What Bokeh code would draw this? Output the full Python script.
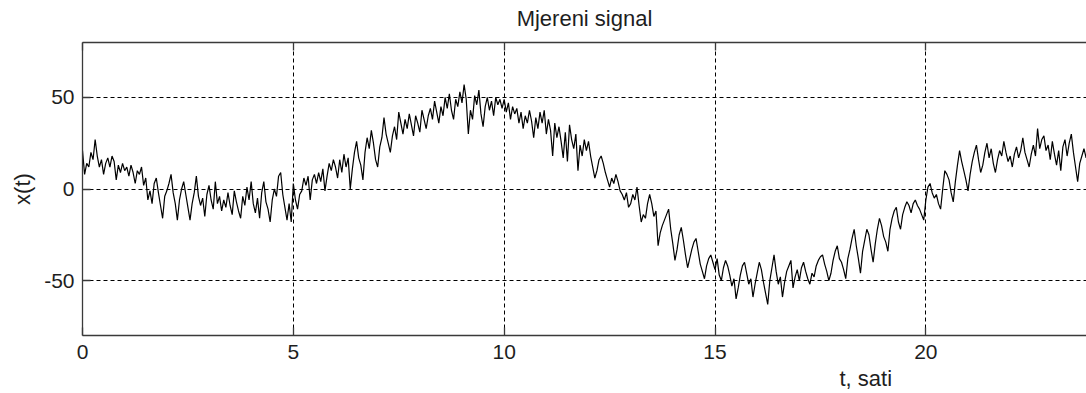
from bokeh.plotting import figure
from bokeh.models import FixedTicker, LinearAxis, Title, Range1d, ColumnDataSource
from bokeh.embed import file_html
from bokeh.resources import INLINE

# ---- data: measured signal x(t), one sample every 0.05 h (3 min), hour by hour ----
h00 = [21, 8, 14, 12, 20, 16, 27, 18, 12, 16, 8, 14, 17, 12, 18, 15, 5, 13, 9, 14]
h01 = [10, 12, 7, 13, 9, 3, 10, 8, 12, 2, 6, -6, -1, -8, 3, 6, -2, -9, -16, -4]
h02 = [-1, 3, 8, -2, -8, -17, -6, 0, 4, -3, -10, -17, -8, -2, 7, -4, -9, -5, -15, -3]
h03 = [2, -6, -11, 4, -8, -4, -12, -6, -10, -2, -9, -14, -1, -7, -12, -16, -4, -9, 1, -6]
h04 = [4, -8, -13, -5, -16, -2, 4, -7, -11, -18, -6, 0, -4, 7, 9, -3, -10, -17, -8, -18]
h05 = [3, -6, -11, -3, -1, 6, 2, 7, -6, 5, 8, 3, 9, 4, 11, -1, 7, 14, 10, 16]
h06 = [12, 6, 16, 9, 19, 12, 17, 0, 11, 20, 26, 17, 13, 5, 20, 28, 22, 32, 25, 16]
h07 = [12, 23, 28, 39, 30, 25, 20, 29, 34, 27, 42, 36, 30, 38, 33, 41, 35, 29, 40, 36]
h08 = [31, 43, 38, 33, 40, 44, 38, 48, 42, 36, 45, 40, 50, 44, 52, 43, 38, 49, 45, 53]
h09 = [47, 57, 49, 30, 43, 38, 51, 46, 54, 41, 34, 45, 50, 43, 48, 40, 50, 46, 49, 44]
h10 = [49, 42, 47, 38, 45, 41, 44, 36, 42, 33, 40, 36, 43, 37, 28, 39, 33, 42, 36, 43]
h11 = [30, 38, 32, 18, 36, 28, 34, 26, 17, 31, 15, 35, 27, 22, 30, 10, 24, 18, 27, 21]
h12 = [26, 18, 12, 6, 10, 16, 18, 14, 9, 5, 1, 6, 3, 8, 4, -1, -3, -6, -2, -10]
h13 = [-8, -3, -6, 1, -9, -18, -14, -16, -8, -3, -8, -15, -12, -31, -24, -20, -17, -14, -11, -22]
h14 = [-30, -39, -33, -25, -21, -28, -36, -43, -38, -33, -29, -27, -34, -41, -45, -49, -42, -38, -36, -40]
h15 = [-44, -38, -47, -50, -43, -39, -42, -47, -53, -49, -60, -54, -47, -42, -40, -46, -52, -49, -59, -52]
h16 = [-46, -40, -44, -51, -57, -63, -50, -43, -36, -45, -52, -48, -59, -51, -45, -42, -39, -54, -48, -44]
h17 = [-50, -43, -40, -45, -49, -52, -46, -48, -42, -39, -37, -36, -41, -45, -50, -46, -39, -34, -31, -38]
h18 = [-40, -44, -49, -38, -33, -27, -22, -31, -38, -46, -34, -28, -22, -25, -33, -40, -30, -22, -16, -20]
h19 = [-26, -29, -34, -22, -16, -12, -10, -18, -22, -14, -10, -7, -9, -13, -8, -6, -9, -11, -14, -17]
h20 = [-6, 1, 3, -2, -5, -3, -8, -11, 0, 10, 8, 5, -2, -7, 4, 13, 21, 15, 10, 5]
h21 = [-1, 8, 15, 20, 24, 16, 9, 13, 20, 25, 17, 22, 14, 9, 16, 21, 18, 26, 20, 15]
h22 = [18, 12, 19, 23, 17, 21, 28, 20, 16, 12, 19, 24, 18, 33, 22, 27, 29, 21, 24, 16]
h23 = [26, 19, 13, 21, 10, 23, 27, 18, 25, 30, 20, 12, 4, 14, 18, 22, 17, 25, 20, 24, 22]

sample_step_h = 0.05
x_ticks = [0, 5, 10, 15, 20]
y_ticks = [-50, 0, 50]
y_tick_labels = {-50: "-50", 0: "0", 50: "50"}
title_text = "Mjereni signal"
x_label_text = "t, sati"
y_label_text = "x(t)"

signal = (h00 + h01 + h02 + h03 + h04 + h05 + h06 + h07 + h08 + h09 + h10 + h11 +
          h12 + h13 + h14 + h15 + h16 + h17 + h18 + h19 + h20 + h21 + h22 + h23)
t = [i * sample_step_h for i in range(len(signal))]
src = ColumnDataSource(data=dict(t=t, x=signal))

FONT = "Liberation Sans"
TXT = "#1e1e1e"
AX = "#3a3a3a"

p = figure(width=1086, height=393,
           x_range=Range1d(0, 23.81), y_range=Range1d(-80, 80),
           output_backend="svg", toolbar_location=None,
           min_border_left=82, min_border_right=0,
           min_border_top=42, min_border_bottom=58)

p.outline_line_color = None
p.background_fill_color = "white"
p.border_fill_color = "white"

for ax in (p.xaxis[0], p.yaxis[0]):
    ax.axis_line_color = AX
    ax.axis_line_width = 1.3
    ax.major_tick_line_color = AX
    ax.major_tick_line_width = 1.3
    ax.major_tick_in = 8
    ax.major_tick_out = 0
    ax.minor_tick_in = 0
    ax.minor_tick_out = 0
    ax.major_label_text_font = FONT
    ax.major_label_text_font_size = "21px"
    ax.major_label_text_color = TXT

p.xaxis[0].ticker = FixedTicker(ticks=x_ticks)
p.yaxis[0].ticker = FixedTicker(ticks=y_ticks)
p.yaxis[0].major_label_overrides = y_tick_labels
p.xaxis[0].major_label_standoff = 9
p.yaxis[0].major_label_standoff = 8

p.yaxis[0].axis_label = y_label_text
p.yaxis[0].axis_label_text_font = FONT
p.yaxis[0].axis_label_text_font_size = "22px"
p.yaxis[0].axis_label_text_font_style = "normal"
p.yaxis[0].axis_label_text_color = TXT
p.yaxis[0].axis_label_standoff = 6

# top box edge with inward ticks; the chart title rides on it, centred over the frame
top_axis = LinearAxis(ticker=FixedTicker(ticks=x_ticks),
                      major_label_text_font_size="1px", major_label_text_color=None,
                      major_label_standoff=0,
                      axis_line_color=AX, axis_line_width=1.3,
                      major_tick_line_color=AX, major_tick_line_width=1.3,
                      major_tick_in=8, major_tick_out=0,
                      minor_tick_in=0, minor_tick_out=0,
                      axis_label=title_text, axis_label_standoff=12,
                      axis_label_text_font=FONT, axis_label_text_font_size="22px",
                      axis_label_text_font_style="normal", axis_label_text_color=TXT)
p.add_layout(top_axis, "above")

p.xgrid.ticker = FixedTicker(ticks=x_ticks)
p.ygrid.ticker = FixedTicker(ticks=y_ticks)
for g in (p.xgrid[0], p.ygrid[0]):
    g.grid_line_color = "black"
    g.grid_line_width = 1
    g.grid_line_dash = "4 3"

p.line("t", "x", source=src, line_color="black", line_width=1.2)

# x-axis caption sits right of centre in the reference
xlabel = Title(text=x_label_text, align="left", offset=757, standoff=4,
               text_font=FONT, text_font_size="22px", text_font_style="normal",
               text_color=TXT)
p.add_layout(xlabel, "below")

open("out.html", "w").write(file_html(p, INLINE))
